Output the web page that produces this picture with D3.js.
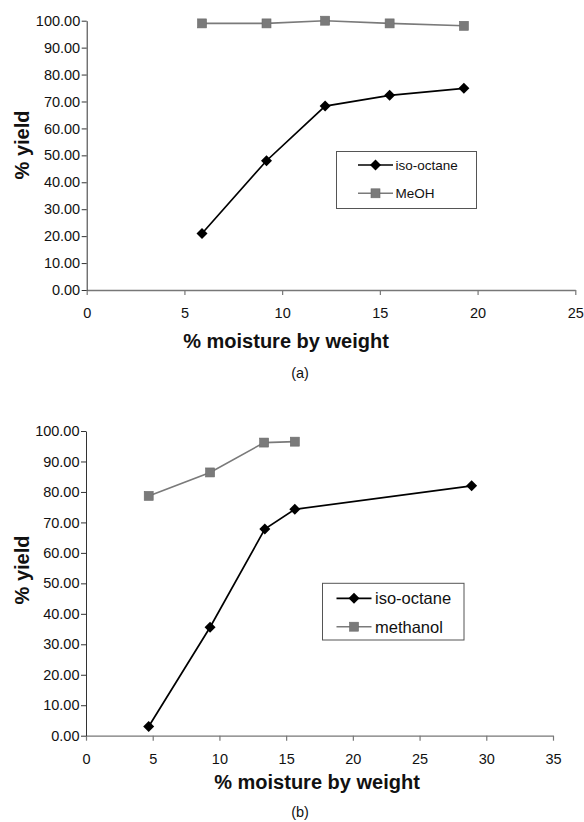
<!DOCTYPE html>
<html>
<head>
<meta charset="utf-8">
<script src="https://cdn.jsdelivr.net/npm/d3@7"></script>
<style>
  html, body { margin: 0; padding: 0; background: #fff; }
  svg { display: block; font-family: "Liberation Sans", Arial, sans-serif; }
</style>
</head>
<body>
<svg id="chart" width="584" height="822"></svg>
<script>
// ---- Data: chart (a) ----
const aMoisture = [5.9, 9.2, 12.2, 15.5, 19.3];
const aIsoOctane = [21.0, 48.0, 68.3, 72.3, 74.9];
const aMeOH = [99.0, 99.0, 100.0, 99.0, 98.1];
const aXTicks = [0, 5, 10, 15, 20, 25];
const aSeriesNames = ["iso-octane", "MeOH"];

// ---- Data: chart (b) ----
const bIsoMoisture = [4.7, 9.3, 13.4, 15.65, 28.9];
const bIsoOctane = [3.0, 35.6, 67.8, 74.3, 82.0];
const bMethMoisture = [4.7, 9.3, 13.35, 15.65];
const bMethanol = [78.7, 86.4, 96.2, 96.5];
const bXTicks = [0, 5, 10, 15, 20, 25, 30, 35];
const bSeriesNames = ["iso-octane", "methanol"];

const yTicks = [0, 10, 20, 30, 40, 50, 60, 70, 80, 90, 100];

const svg = d3.select("#chart");
const BLACK = "#000";
const GREY = "#7a7a7a";
const AXIS = "#777";

function drawChart(cfg) {
  const g = svg.append("g");
  const x = d3.scaleLinear().domain(cfg.xDomain).range(cfg.xRange);
  const y = d3.scaleLinear().domain([0, 100]).range(cfg.yRange);

  // x axis
  const xa = g.append("g")
    .attr("transform", `translate(0,${cfg.yRange[0]})`)
    .call(d3.axisBottom(x).tickValues(cfg.xTicks).tickFormat(d3.format("d"))
      .tickSize(5).tickSizeOuter(0).tickPadding(13));
  xa.select(".domain").attr("stroke", AXIS).attr("stroke-width", 1.3);
  xa.selectAll(".tick line").attr("stroke", AXIS).attr("stroke-width", 1.2);
  xa.selectAll("text").attr("font-size", 14.5).attr("fill", "#111")
    .attr("font-family", '"Liberation Sans", Arial, sans-serif');

  // y axis
  const ya = g.append("g")
    .attr("transform", `translate(${cfg.xRange[0]},0)`)
    .call(d3.axisLeft(y).tickValues(yTicks).tickFormat(d3.format(".2f"))
      .tickSize(5).tickSizeOuter(0).tickPadding(1.5));
  ya.select(".domain").attr("stroke", "#333").attr("stroke-width", 1);
  ya.selectAll(".tick line").attr("stroke", "#333");
  ya.selectAll("text").attr("font-size", 14.5).attr("fill", "#111")
    .attr("font-family", '"Liberation Sans", Arial, sans-serif');

  // titles
  g.append("text")
    .attr("x", cfg.xTitleX).attr("y", cfg.xTitleY)
    .attr("text-anchor", "middle").attr("font-weight", "bold").attr("font-size", 20)
    .attr("fill", "#111").text("% moisture by weight");
  g.append("text")
    .attr("transform", `translate(22,${cfg.yTitleY}) rotate(-90)`)
    .attr("text-anchor", "middle").attr("dominant-baseline", "central")
    .attr("font-weight", "bold").attr("font-size", 20)
    .attr("fill", "#111").text("% yield");
  g.append("text")
    .attr("x", 300).attr("y", cfg.capY)
    .attr("text-anchor", "middle").attr("font-size", 14.5)
    .attr("fill", "#111").text(cfg.caption);

  const line = d3.line().x(d => x(d[0])).y(d => y(d[1]));

  function diamond(sel, cx, cy, r) {
    sel.append("path")
      .attr("d", `M${cx},${cy - r}L${cx + r},${cy}L${cx},${cy + r}L${cx - r},${cy}Z`)
      .attr("fill", BLACK);
  }
  function square(sel, cx, cy, s) {
    sel.append("rect")
      .attr("x", cx - s / 2).attr("y", cy - s / 2).attr("width", s).attr("height", s)
      .attr("fill", GREY).attr("stroke", "#6a6a6a").attr("stroke-width", 0.6);
  }

  // grey series first (behind)
  const greyPts = d3.zip(cfg.greyX, cfg.greyY);
  g.append("path").datum(greyPts).attr("d", line)
    .attr("fill", "none").attr("stroke", GREY).attr("stroke-width", 1.6);
  greyPts.forEach(p => square(g, x(p[0]), y(p[1]), 9));

  const blackPts = d3.zip(cfg.blackX, cfg.blackY);
  g.append("path").datum(blackPts).attr("d", line)
    .attr("fill", "none").attr("stroke", BLACK).attr("stroke-width", 1.7);
  blackPts.forEach(p => diamond(g, x(p[0]), y(p[1]), 5.5));

  // legend
  const L = cfg.legend;
  g.append("rect")
    .attr("x", L.x).attr("y", L.y).attr("width", L.w).attr("height", L.h)
    .attr("fill", "#fff").attr("stroke", "#555").attr("stroke-width", 1);
  const rows = [
    { name: cfg.names[0], color: BLACK, mark: "d" },
    { name: cfg.names[1], color: GREY, mark: "s" }
  ];
  rows.forEach((r, i) => {
    const cy = L.rowY[i];
    g.append("line")
      .attr("x1", L.lx1).attr("x2", L.lx2).attr("y1", cy).attr("y2", cy)
      .attr("stroke", r.color).attr("stroke-width", r.mark === "d" ? 1.7 : 1.6);
    const mx = (L.lx1 + L.lx2) / 2;
    if (r.mark === "d") diamond(g, mx, cy, 5.5); else square(g, mx, cy, 9);
    g.append("text")
      .attr("x", L.tx).attr("y", cy).attr("dominant-baseline", "central")
      .attr("font-size", L.fs).attr("fill", "#111").text(r.name);
  });
}

drawChart({
  xDomain: [0, 25], xRange: [86.7, 575.3], yRange: [290, 20.7], xTicks: aXTicks,
  blackX: aMoisture, blackY: aIsoOctane, greyX: aMoisture, greyY: aMeOH,
  names: aSeriesNames,
  xTitleX: 286, xTitleY: 348, yTitleY: 145, capY: 378, caption: "(a)",
  legend: { x: 336.5, y: 151.5, w: 140, h: 57, lx1: 358, lx2: 393, tx: 395.5, rowY: [165, 193.3], fs: 13.5 }
});

drawChart({
  xDomain: [0, 35], xRange: [86, 553], yRange: [735.7, 431], xTicks: bXTicks,
  blackX: bIsoMoisture, blackY: bIsoOctane, greyX: bMethMoisture, greyY: bMethanol,
  names: bSeriesNames,
  xTitleX: 317, xTitleY: 789, yTitleY: 570, capY: 817, caption: "(b)",
  legend: { x: 322.5, y: 583.3, w: 141.5, h: 56.7, lx1: 336.5, lx2: 371.5, tx: 375, rowY: [598.3, 626.7], fs: 16.5 }
});
</script>
</body>
</html>
